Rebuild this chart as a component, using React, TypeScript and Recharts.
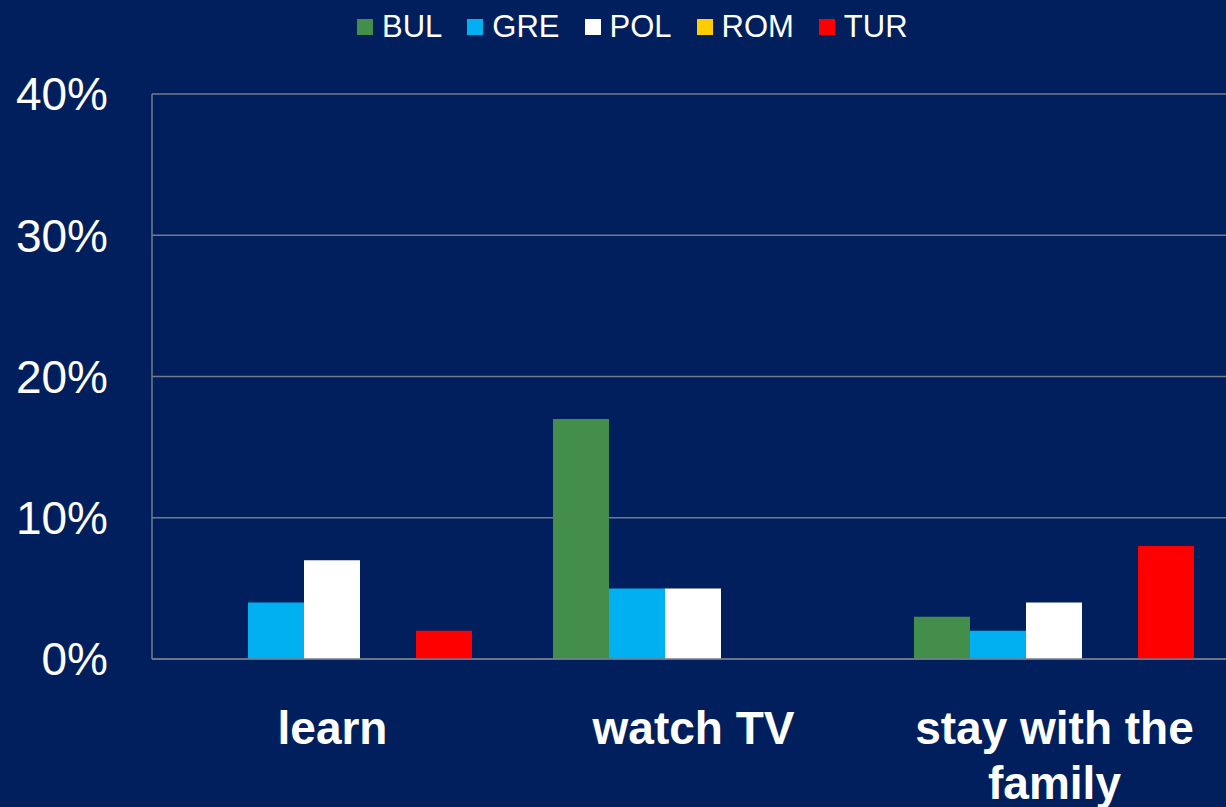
import * as React from "react";
import { BarChart, Bar, XAxis, YAxis, CartesianGrid, Legend } from "recharts";

// ── Data ───────────────────────────────────────────────────────────────
const categories = ["learn", "watch TV", "stay with the family"];
const bul = [0, 17, 3];
const gre = [4, 5, 2];
const pol = [7, 5, 4];
const rom = [0, 0, 0];
const tur = [2, 0, 8];
const yTicks = [0, 10, 20, 30, 40];

const series = [
  { key: "BUL", values: bul, color: "#448E4C" },
  { key: "GRE", values: gre, color: "#00B0F0" },
  { key: "POL", values: pol, color: "#FFFFFF" },
  { key: "ROM", values: rom, color: "#FFCC00" },
  { key: "TUR", values: tur, color: "#FF0000" },
];

const data = categories.map((name, i) => {
  const row: Record<string, string | number> = { name };
  series.forEach((s) => (row[s.key] = s.values[i]));
  return row;
});

const FONT = '"Liberation Sans", Arial, sans-serif';
const BG = "#001F5C";
const GRID = "#737B8A";
const LABEL_FONT = `bold 46px ${FONT}`;

// wrap a label into lines no wider than maxWidth (canvas measurement)
function wrapLabel(label: string, maxWidth: number): string[] {
  const ctx = document.createElement("canvas").getContext("2d");
  if (!ctx) return [label];
  ctx.font = LABEL_FONT;
  const lines: string[] = [];
  let line = "";
  label.split(" ").forEach((word) => {
    const test = line ? `${line} ${word}` : word;
    if (line && ctx.measureText(test).width > maxWidth) {
      lines.push(line);
      line = word;
    } else {
      line = test;
    }
  });
  if (line) lines.push(line);
  return lines;
}

// ── Ticks & legend ─────────────────────────────────────────────────────
function CategoryTick({ x, y, payload }: any) {
  const lines = wrapLabel(String(payload.value), 340);
  return (
    <text
      x={x}
      y={y + 85}
      textAnchor="middle"
      fill="#FFFFFF"
      style={{ fontFamily: FONT, fontSize: 46, fontWeight: "bold" }}
    >
      {lines.map((l, i) => (
        <tspan key={i} x={x} dy={i === 0 ? 0 : 55}>
          {l}
        </tspan>
      ))}
    </text>
  );
}

function LegendContent() {
  return (
    <div style={{ display: "flex", alignItems: "center", height: 36, fontFamily: FONT }}>
      {series.map((s) => (
        <div key={s.key} style={{ display: "flex", alignItems: "center", marginRight: 25 }}>
          <span style={{ width: 16, height: 16, background: s.color, marginRight: 9 }} />
          <span style={{ color: "#FFFFFF", fontSize: 31, whiteSpace: "nowrap" }}>{s.key}</span>
        </div>
      ))}
    </div>
  );
}

// ── Component ──────────────────────────────────────────────────────────
export default function App() {
  return (
    <div style={{ width: 1226, height: 807, overflow: "hidden", background: BG, position: "relative" }}>
      <style>{"body{margin:0}"}</style>
      <BarChart
        width={1240}
        height={807}
        data={data}
        margin={{ top: 94, right: 5, left: 0, bottom: 0 }}
        barCategoryGap={40}
        barGap={0}
      >
        <CartesianGrid horizontal vertical={false} stroke={GRID} strokeWidth={1.5} />
        <XAxis
          dataKey="name"
          height={148}
          interval={0}
          tickLine={false}
          tickSize={0}
          tickMargin={0}
          axisLine={{ stroke: GRID, strokeWidth: 1.5 }}
          tick={<CategoryTick />}
        />
        <YAxis
          width={152}
          domain={[0, 40]}
          ticks={yTicks}
          interval={0}
          tickLine={false}
          tickSize={0}
          tickMargin={44}
          axisLine={{ stroke: GRID, strokeWidth: 1.5 }}
          tickFormatter={(v: number) => `${v}%`}
          tick={{ fill: "#FFFFFF", fontSize: 46, fontFamily: FONT }}
        />
        <Legend
          verticalAlign="middle"
          content={<LegendContent />}
          wrapperStyle={{ top: 9, left: 357, width: "auto" }}
        />
        {series.map((s) => (
          <Bar key={s.key} dataKey={s.key} fill={s.color} isAnimationActive={false} />
        ))}
      </BarChart>
    </div>
  );
}
